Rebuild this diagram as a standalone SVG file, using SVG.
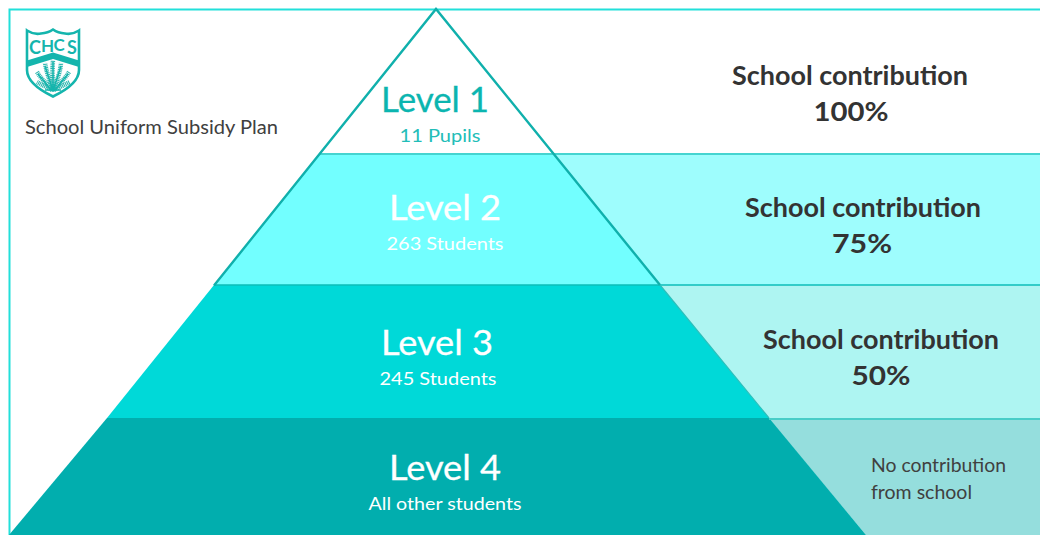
<svg xmlns="http://www.w3.org/2000/svg" width="1040" height="535" viewBox="0 0 1040 535">
<style>
text{font-family:"Lato","Noto Sans","Liberation Sans",sans-serif;text-anchor:middle}
.lv{font-size:34px;fill:#fff;stroke:#fff;stroke-width:.3}
.sub{font-size:18px;fill:#fff}
.con{font-size:26px;font-weight:700;fill:#333}
.plain{font-size:18.5px;fill:#404040;text-anchor:start}
.logo{font-size:18px;font-weight:700;fill:#14b5ad}
.ln{stroke:#10b0ac;stroke-width:2.4;fill:none}
.frond{stroke:#2bb5ae;stroke-width:4.500;fill:none;stroke-dasharray:1.100 .7}
.stem{stroke:#14b5ad;stroke-width:1.500;fill:none}
</style>
<rect width="1040" height="535" fill="#fff"/>
<g id="right-bands">
<polygon points="554,154 1040,154 1040,285 660,285" fill="#9efdfd"/>
<polygon points="660,285 1040,285 1040,419 769,419" fill="#aef5f2"/>
<polygon points="769,419 1040,419 1040,535 866,535" fill="#95dedd"/>
</g>
<rect id="frame" x="9.500" y="9.500" width="1040" height="540" fill="none" stroke="#22e0da" stroke-width="2"/>
<g id="level-1">
<polygon points="436,9 320,154 554,154" fill="#fff"/>
<text class="lv" x="435" y="112" style="fill:#0bb5b0;stroke:#0bb5b0" textLength="108" lengthAdjust="spacingAndGlyphs">Level 1</text>
<text class="sub" x="440" y="142" style="fill:#22bdb8" textLength="81" lengthAdjust="spacingAndGlyphs">11 Pupils</text>
</g>
<g id="level-2">
<polygon points="320,154 554,154 660,285 214,285" fill="#72ffff"/>
<text class="lv" x="445" y="220" textLength="112" lengthAdjust="spacingAndGlyphs">Level 2</text>
<text class="sub" x="445" y="250" textLength="117" lengthAdjust="spacingAndGlyphs">263 Students</text>
</g>
<g id="level-3">
<polygon points="214,285 660,285 769,418 107,418" fill="#00d9d8"/>
<text class="lv" x="437" y="355" textLength="112" lengthAdjust="spacingAndGlyphs">Level 3</text>
<text class="sub" x="438" y="385" textLength="117" lengthAdjust="spacingAndGlyphs">245 Students</text>
</g>
<g id="level-4">
<polygon points="107,418 769,418 866,535 9,535" fill="#01aeae"/>
<text class="lv" x="445" y="480" textLength="112" lengthAdjust="spacingAndGlyphs">Level 4</text>
<text class="sub" x="445" y="510" textLength="153" lengthAdjust="spacingAndGlyphs">All other students</text>
</g>
<g id="connectors">
<path d="M320 154H1040" stroke="#45d4d0" stroke-width="1.800" fill="none"/>
<path d="M214 285H1040" stroke="#0cbcb8" stroke-width="1.600" fill="none"/>
<path d="M769 419H1040" stroke="#48cdc8" stroke-width="1.800" fill="none"/>
<path class="ln" d="M214 285.500 436 9 660 285"/>
<path d="M660 285 769 418" fill="none" stroke="#2bbfbb" stroke-width="1.200"/>
</g>
<g id="contrib-1"><text class="con" x="850" y="85" textLength="236" lengthAdjust="spacingAndGlyphs">School contribution</text><text class="con" x="851" y="121" textLength="75" lengthAdjust="spacingAndGlyphs">100%</text></g>
<g id="contrib-2"><text class="con" x="863" y="217" textLength="236" lengthAdjust="spacingAndGlyphs">School contribution</text><text class="con" x="862" y="253" textLength="60" lengthAdjust="spacingAndGlyphs">75%</text></g>
<g id="contrib-3"><text class="con" x="881" y="349" textLength="236" lengthAdjust="spacingAndGlyphs">School contribution</text><text class="con" x="881" y="385" textLength="59" lengthAdjust="spacingAndGlyphs">50%</text></g>
<g id="contrib-4"><text class="plain" x="871" y="472" textLength="135" lengthAdjust="spacingAndGlyphs">No contribution</text><text class="plain" x="871" y="499" textLength="101" lengthAdjust="spacingAndGlyphs">from school</text></g>
<g id="title"><text class="plain" x="25" y="134" textLength="253" lengthAdjust="spacingAndGlyphs">School Uniform Subsidy Plan</text></g>
<g id="logo">
<path d="M27 30.500Q34 35 41 33.500Q48 33 53 29.500Q58 33 65 33.500Q72 35 79 30.500V70Q79 84 53 96.500Q27 84 27 70Z" fill="#fff" stroke="#14b5ad" stroke-width="2.600"/>
<path d="M27 60.500 53 52.500 79 60.500V67L53 59 27 67Z" fill="#14b5ad"/>
<text class="logo" x="35" y="53.500">C</text><text class="logo" x="47.500" y="52" style="font-size:17px">H</text><text class="logo" x="59" y="50.500" style="font-size:17px">C</text><text class="logo" x="72" y="54">S</text>
<path class="frond" d="M53 89Q52 74 53 60"/>
<path class="frond" d="M53 89Q47 75 45 63"/>
<path class="frond" d="M53 89Q60 75 61 63"/>
<path class="frond" d="M52 89Q42 80 37 72"/>
<path class="frond" d="M54 89Q64 80 69 72"/>
<path class="frond" d="M52 90Q44 86 37 82"/>
<path class="frond" d="M54 90Q62 86 70 82"/>
<path class="stem" d="M53 92V62M53 91 45 66M53 91 61 66M52 91 38 74M54 91 68 74M45 90H61"/>
</g>
</svg>
